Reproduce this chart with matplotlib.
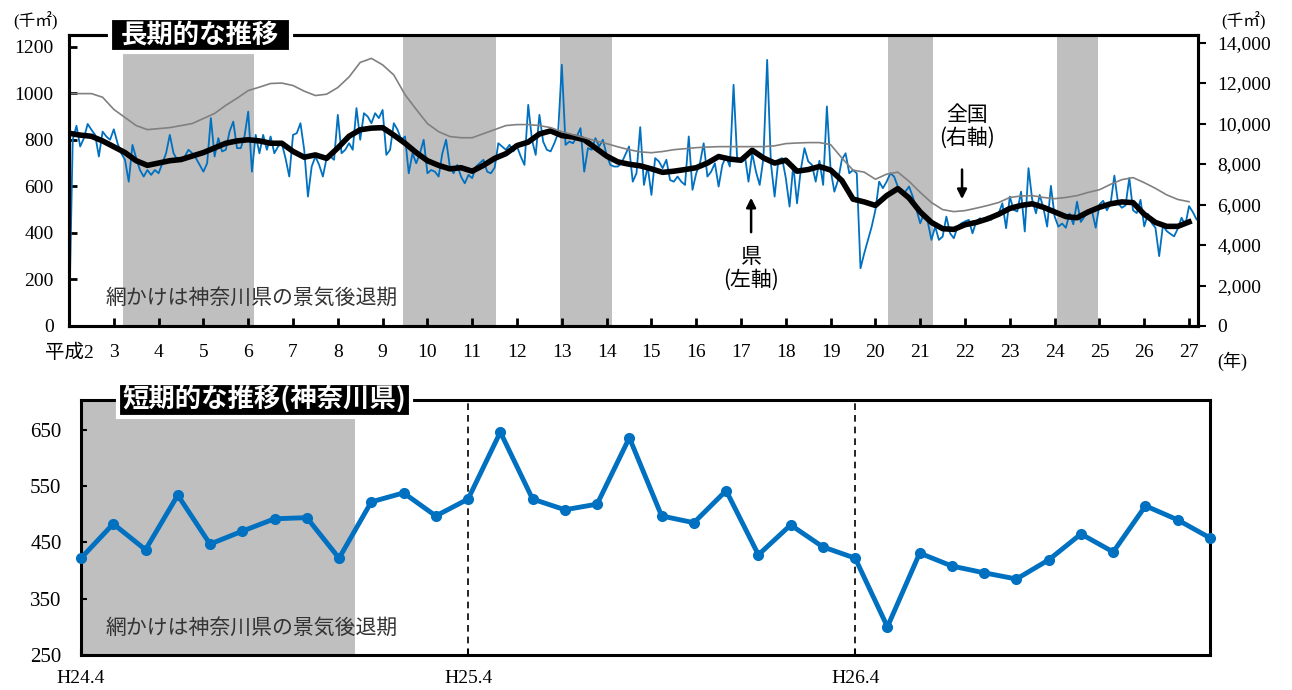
import numpy as np
import matplotlib
matplotlib.use("Agg")
import matplotlib.pyplot as plt
from matplotlib.patches import Rectangle

plt.rcParams['font.family'] = ['Liberation Serif', 'Noto Sans CJK JP']
JP = 'Noto Sans CJK JP'

# 神奈川県 着工床面積 (千㎡), monthly H2.1 - H27.3
ken_monthly = [
    0, 800, 860, 771, 807, 868, 843, 821, 728, 835, 814, 800,          # H2
    845, 785, 742, 714, 620, 778, 721, 670, 642, 670, 649, 670,        # H3
    656, 699, 742, 821, 742, 714, 721, 728, 757, 742, 721, 692,        # H4
    663, 699, 893, 728, 807, 750, 757, 835, 878, 764, 764, 814,        # H5
    921, 663, 821, 742, 821, 757, 814, 742, 771, 785, 720, 642,        # H6
    821, 828, 871, 757, 556, 685, 728, 692, 642, 721, 728, 714,        # H7
    907, 742, 757, 785, 757, 936, 800, 914, 900, 871, 914, 893,        # H8
    928, 735, 757, 871, 843, 800, 814, 656, 742, 699, 742, 800,        # H9
    656, 670, 663, 642, 742, 800, 685, 656, 692, 642, 613, 649,        # H10
    635, 685, 699, 714, 663, 656, 680, 785, 771, 757, 778, 750,        # H11
    771, 728, 692, 950, 800, 735, 907, 792, 757, 750, 785, 828,        # H12
    1122, 778, 792, 785, 814, 850, 663, 764, 757, 807, 771, 800,       # H13
    735, 692, 685, 685, 700, 735, 771, 620, 656, 854, 606, 685,        # H14
    563, 721, 707, 678, 714, 627, 620, 642, 620, 606, 814, 585,        # H15
    656, 699, 785, 642, 663, 699, 599, 692, 728, 685, 1036, 707,       # H16
    721, 735, 620, 742, 663, 606, 721, 1143, 699, 556, 714, 721,       # H17
    635, 513, 692, 527, 670, 764, 707, 692, 620, 710, 606, 943,        # H18
    670, 577, 627, 714, 742, 656, 670, 656, 248, 312, 370, 427,        # H19
    499, 620, 592, 620, 656, 642, 599, 570, 577, 599, 556, 499,        # H20
    441, 484, 449, 370, 427, 370, 384, 470, 398, 377, 427, 441,        # H21
    449, 456, 398, 449, 463, 449, 470, 456, 477, 484, 527, 420,        # H22
    556, 499, 492, 577, 406, 678, 542, 484, 563, 506, 427, 602,        # H23
    470, 427, 440, 422, 483, 437, 534, 447, 470, 492, 494, 422,        # H24
    522, 538, 497, 527, 646, 527, 508, 518, 636, 497, 485, 542,        # H25
    428, 481, 442, 422, 300, 431, 408, 396, 385, 419, 465, 433,        # H26
    515, 490, 458,                                                     # H27
]

# 12か月移動平均 (県), read every 3 months from H2.1
ken_ma = [
    828, 820, 815, 795, 770, 745, 710, 690, 700, 710, 715, 730,
    745, 765, 785, 795, 800, 795, 785, 785, 750, 725, 735, 720,
    765, 815, 843, 850, 852, 820, 785, 745, 710, 690, 675, 680,
    665, 690, 720, 740, 775, 790, 825, 838, 818, 812, 800, 765,
    730, 705, 695, 688, 675, 660, 665, 672, 680, 700, 728, 717,
    712, 755, 722, 700, 712, 665, 672, 685, 670, 625, 545, 533,
    518, 560, 590, 550, 490, 445, 418, 415, 435, 445, 460, 480,
    505, 518, 525, 510, 490, 470, 465, 490, 510, 525, 533, 530,
    480, 445, 428, 428, 447,
]

# 全国 (右軸, 千㎡), every 3 months from H2.1
zenkoku = [
    11480, 11480, 11480, 11300, 10700, 10300, 9900, 9700, 9750, 9800, 9900, 10000,
    10250, 10500, 10900, 11250, 11630, 11800, 11980, 12000, 11880, 11600, 11385, 11450,
    11780, 12300, 13020, 13220, 12900, 12400, 11430, 10700, 10000, 9600, 9360, 9300,
    9300, 9500, 9700, 9900, 9950, 9950, 9900, 9800, 9600, 9450, 9300, 9150,
    9010, 8850, 8710, 8600, 8560, 8620, 8710, 8760, 8810, 8840, 8860, 8860,
    8860, 8860, 8860, 8900, 9010, 9040, 9060, 9060, 8960, 8300, 7700, 7600,
    7250, 7500, 7600, 7150, 6600, 6100, 5750, 5650, 5700, 5820, 5950, 6100,
    6350, 6420, 6440, 6350, 6290, 6350, 6440, 6600, 6730, 7000, 7230, 7330,
    7080, 6800, 6480, 6250, 6140,
]

year_labels = ['平成2'] + [str(y) for y in range(3, 28)]
# 神奈川県の景気後退期 (month index from H2.1)
recessions = [(14.5, 49.5), (89.5, 114.5), (131.5, 145.5), (219.5, 231.5), (264.5, 275.5)]

short_start = 267          # H24.4
short_labels = ['H24.4', 'H25.4', 'H26.4']

BLUE = '#0070C0'
SHADE = '#BFBFBF'

fig = plt.figure(figsize=(12.92, 6.90), dpi=100)

# ---- 長期的な推移 ----
ax1 = fig.add_axes([69/1292, 1-326/690, 1129/1292, 291/690])
ax2 = ax1.twinx()

for s, e in recessions:
    ax1.axvspan(s, e, color=SHADE, lw=0, zorder=0)

m = np.arange(len(ken_monthly))
q = np.arange(len(ken_ma)) * 3
ax1.plot(m, ken_monthly, color=BLUE, lw=1.3, zorder=2)
ax1.plot(q, ken_ma, color='black', lw=4, solid_joinstyle='round', zorder=3)
ax2.plot(np.arange(len(zenkoku)) * 3, zenkoku, color='#808080', lw=1.2)

ax1.set_xlim(0, 302.4)
ax1.set_ylim(0, 1250)
ax2.set_ylim(0, 14375)
ax1.set_yticks(range(0, 1201, 200))
ax2.set_yticks(range(0, 14001, 2000))
ax2.set_yticklabels([f'{v:,}' for v in range(0, 14001, 2000)])
ax1.set_xticks(np.arange(len(year_labels)) * 12)
ax1.set_xticklabels(year_labels)

ax1.tick_params(axis='y', direction='in', length=6, width=2, labelsize=14, pad=11)
ax1.tick_params(axis='x', direction='in', length=6, width=2, labelsize=14, pad=13)
ax2.tick_params(axis='y', direction='out', length=6, width=1.5, labelsize=14, pad=8)
for ax in (ax1, ax2):
    for sp in ax.spines.values():
        sp.set_linewidth(2.2)

ax1.text(0.032, 0.096, '網かけは神奈川県の景気後退期', transform=ax1.transAxes,
         fontsize=15, family=JP, color='#333333', va='center')

ax1.annotate('', xy=(182.7, 563), xytext=(182.7, 391),
             arrowprops=dict(arrowstyle='-|>', color='black', lw=1.8, mutation_scale=14))
ax1.text(182.7, 249, '県\n(左軸)', ha='center', va='center', fontsize=15,
         family=JP, linespacing=1.05)
ax1.annotate('', xy=(239.2, 533), xytext=(239.2, 684),
             arrowprops=dict(arrowstyle='-|>', color='black', lw=1.8, mutation_scale=14))
ax1.text(240.5, 856, '全国\n(右軸)', ha='center', va='center', fontsize=15,
         family=JP, linespacing=1.05)

fig.text(36/1292, 1-21/690, '(千㎡)', ha='center', va='center', fontsize=12)
fig.text(1244/1292, 1-21/690, '(千㎡)', ha='center', va='center', fontsize=12)
fig.text(1232/1292, 1-361/690, '(年)', ha='center', va='center', fontsize=13)

# ---- 短期的な推移 ----
ax3 = fig.add_axes([81/1292, 1-655/690, 1129/1292, 255/690])
short = ken_monthly[short_start:]
sx = np.arange(short_start, short_start + len(short))
for s, e in recessions:
    ax3.axvspan(s, e, color=SHADE, lw=0, zorder=0)
ax3.plot(sx, short, color=BLUE, lw=3.5, marker='o', ms=7, zorder=3, clip_on=False)
for k in (1, 2):
    ax3.axvline(short_start + 12*k, color='black', lw=1.2, ls=(0, (4, 3)), zorder=1)

ax3.set_xlim(sx[0], sx[-1])
ax3.set_ylim(250, 703)
ax3.set_yticks(range(250, 651, 100))
ax3.set_xticks([short_start + 12*k for k in range(len(short_labels))])
ax3.set_xticklabels(short_labels)
ax3.tick_params(axis='y', direction='in', length=4, width=1.5, labelsize=15, pad=14)
ax3.tick_params(axis='x', direction='in', length=4, width=1.5, labelsize=14, pad=11)
for sp in ax3.spines.values():
    sp.set_linewidth(2.2)
ax3.text(0.022, 0.106, '網かけは神奈川県の景気後退期', transform=ax3.transAxes,
         fontsize=15, family=JP, color='#333333', va='center')

# title boxes
fig.patches.append(Rectangle((110/1292, 1-52/690), 181/1292, 34/690,
                             transform=fig.transFigure, fc='black', ec='white', lw=3, zorder=5))
fig.text(200/1292, 1-35/690, '長期的な推移', ha='center', va='center', color='white',
         fontsize=19, fontweight='bold', family=JP, zorder=6)
fig.patches.append(Rectangle((118/1292, 1-417/690), 293/1292, 34/690,
                             transform=fig.transFigure, fc='black', ec='white', lw=3, zorder=5))
fig.text(264/1292, 1-400/690, '短期的な推移(神奈川県)', ha='center', va='center', color='white',
         fontsize=19, fontweight='bold', family=JP, zorder=6)

fig.savefig('out.png', dpi=100)
